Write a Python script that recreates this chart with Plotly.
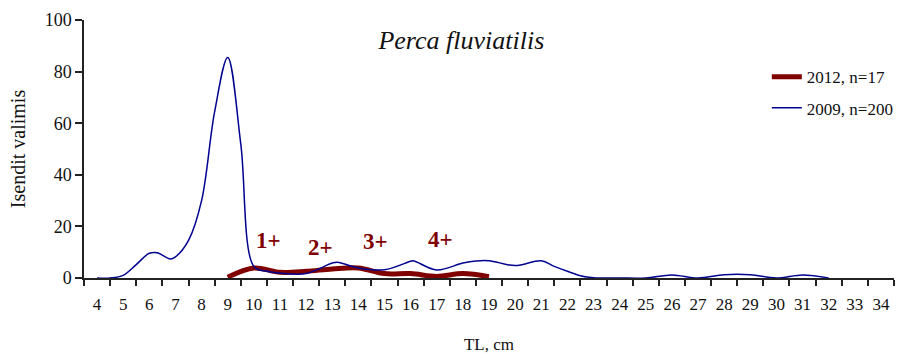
import plotly.graph_objects as go

# 2009, n=200
tl_2009 = [4, 4.5, 5, 5.5, 6, 6.3, 6.8, 7.0, 7.5, 8.0, 8.5, 9.0, 9.5, 10.0, 10.5, 11, 12, 13, 13.2,
           14, 15, 16, 16.1, 17, 18, 18.5, 19, 20, 21, 21.5, 22, 22.5, 23, 24, 25, 26, 27, 28, 29, 30, 31, 32]
val_2009 = [0, 0, 1.0, 5.2, 9.6, 9.8, 7.4, 8.2, 14.6, 30, 64.5, 85.5, 52, 4.5, 2.6, 1.9, 1.7, 5.8, 6.1,
            3.9, 3.2, 6.5, 6.7, 3.1, 5.8, 6.6, 6.7, 4.8, 6.7, 4.5, 2.6, 0.9, 0.1, 0, 0, 1.2, 0, 1.3, 1.3, 0, 1.2, 0]

# 2012, n=17
tl_2012 = [9, 10, 11, 12, 13, 14, 15, 16, 17, 18, 19]
val_2012 = [0.3, 3.9, 2.2, 2.6, 3.5, 3.9, 1.7, 1.7, 0.6, 1.7, 0.5]

x_ticks = list(range(4, 35))
x_labels = [str(v) for v in x_ticks]
y_ticks = [0, 20, 40, 60, 80, 100]

age_labels = ["1+", "2+", "3+", "4+"]
age_x = [10.55, 12.55, 14.65, 17.15]
age_y = [14.5, 12.0, 14.0, 15.0]

FONT = "Liberation Serif"
RED = "#800000"
BLUE = "#000090"
AX = "#222222"

fig = go.Figure()
fig.add_trace(go.Scatter(x=tl_2012, y=val_2012, mode="lines", name="2012, n=17",
                         line=dict(color=RED, width=5, shape="spline"), legendgroup="a"))
fig.add_trace(go.Scatter(x=tl_2009, y=val_2009, mode="lines", name="2009, n=200",
                         line=dict(color=BLUE, width=1.5, shape="spline"), legendgroup="b"))

for t, xx, yy in zip(age_labels, age_x, age_y):
    fig.add_annotation(x=xx, y=yy, text="<b>" + t + "</b>", showarrow=False,
                       font=dict(family=FONT, size=23, color=RED))

fig.update_layout(
    width=910, height=356,
    margin=dict(l=84, r=11, t=20, b=78),
    paper_bgcolor="white", plot_bgcolor="white",
    font=dict(family=FONT, size=17, color="#111"),
    title=dict(text="<i>Perca fluviatilis</i>", x=0.507, xanchor="center",
               y=1 - 40 / 356, yanchor="middle", yref="container",
               font=dict(family=FONT, size=26, color="#111")),
    legend=dict(x=0.843, y=0.848, xanchor="left", yanchor="top",
                bgcolor="rgba(0,0,0,0)", font=dict(family=FONT, size=17),
                traceorder="grouped", tracegroupgap=6),
    xaxis=dict(range=[3.5, 34.5], tickmode="array", tickvals=x_ticks, ticktext=x_labels,
               ticks="", showline=True, linecolor=AX, linewidth=1.5, showgrid=False,
               zeroline=False, ticklabelstandoff=10, automargin=False,
               tickfont=dict(family=FONT, size=17),
               minor=dict(tickmode="linear", tick0=3.5, dtick=1, ticks="outside",
                          ticklen=6, tickcolor=AX, tickwidth=1.5, showgrid=False),
               title=dict(text="TL, cm", standoff=25, font=dict(family=FONT, size=17))),
    yaxis=dict(range=[0, 100], tickmode="array", tickvals=y_ticks, ticks="outside",
               ticklen=7, tickcolor=AX, tickwidth=1.5, showline=True, linecolor=AX,
               linewidth=1.5, showgrid=False, zeroline=False, automargin=False,
               tickfont=dict(family=FONT, size=18),
               title=dict(text="Isendit valimis", standoff=14, font=dict(family=FONT, size=20))),
)

fig.write_html("out.html")
